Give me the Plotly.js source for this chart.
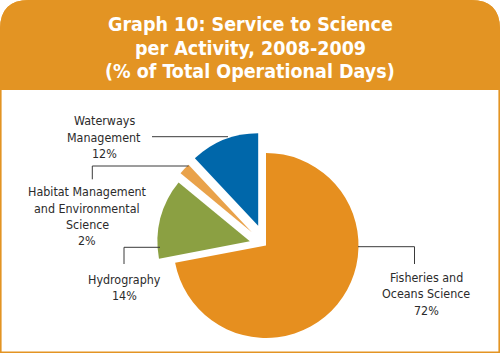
<!DOCTYPE html>
<html>
<head>
<meta charset="utf-8">
<script src="https://cdn.plot.ly/plotly-3.0.1.min.js"></script>
<style>
html,body{margin:0;padding:0;width:500px;height:353px;overflow:hidden;background:#fff;}
#chart{position:absolute;left:0;top:0;width:500px;height:380px;}
</style>
</head>
<body>
<div id="chart"></div>
<script>
// ---- data ----
const categories = ['Fisheries and Oceans Science', 'Hydrography', 'Habitat Management and Environmental Science', 'Waterways Management'];
const shares = [72, 14, 2, 12];
const labelLines = [
  ['Fisheries and', 'Oceans Science'],
  ['Hydrography'],
  ['Habitat Management', 'and Environmental', 'Science'],
  ['Waterways', 'Management']
];
const titleLines = ['Graph 10: Service to Science', 'per Activity, 2008-2009', '(% of Total Operational Days)'];

// ---- styling / layout helpers ----
const W = 500, H = 380;
const px = x => x / W;
const py = y => 1 - y / H;
const sliceColors = ['#E68F1F', '#8BA042', '#E9A24A', '#0067AA'];
const pulls = [0, 0.18, 0.21, 0.23];
const ORANGE = '#E39423';
const FONT = '"DejaVu Sans Condensed", "Liberation Sans Narrow", "Arial Narrow", sans-serif';

const trace = {
  type: 'pie',
  labels: categories,
  values: shares,
  sort: false,
  direction: 'clockwise',
  rotation: 0,
  pull: pulls,
  marker: {colors: sliceColors, line: {width: 0}},
  textinfo: 'none',
  hoverinfo: 'label+percent',
  showlegend: false,
  domain: {x: [px(152.2), px(379.8)], y: [py(359.3), py(131.7)]}
};

// label placement (pixels): text center x, first line y, leader polyline
const labelPos = [
  {x: 426, y: 277.5, line: [[358, 246.7], [414.5, 246.7], [414.5, 264]]},
  {x: 124, y: 279.5, line: [[160, 247.3], [124, 247.3], [124, 264]]},
  {x: 87,  y: 191.7, line: [[188.5, 166], [92.3, 166], [92.3, 179.3]]},
  {x: 104, y: 120.7, line: [[228, 136.7], [152, 136.7]]}
];

const annotations = [];
const shapes = [];

// header + frame
const r = 29;
const hdrPath = `M ${px(0)},${py(90)} L ${px(0)},${py(r)} Q ${px(0)},${py(0)} ${px(r)},${py(0)} L ${px(W - r)},${py(0)} Q ${px(W)},${py(0)} ${px(W)},${py(r)} L ${px(W)},${py(90)} Z`;
const framePath = `M ${px(0.8)},${py(352.2)} L ${px(0.8)},${py(r)} Q ${px(0.8)},${py(0.8)} ${px(r)},${py(0.8)} L ${px(W - r)},${py(0.8)} Q ${px(W - 0.8)},${py(0.8)} ${px(W - 0.8)},${py(r)} L ${px(W - 0.8)},${py(352.2)} Z`;
shapes.push({type: 'path', xref: 'paper', yref: 'paper', path: framePath, line: {color: ORANGE, width: 1.6}, fillcolor: 'rgba(0,0,0,0)', layer: 'below'});
shapes.push({type: 'path', xref: 'paper', yref: 'paper', path: hdrPath, line: {width: 0}, fillcolor: ORANGE, layer: 'below'});

const titleY = [25, 48.3, 71.7];
titleLines.forEach((t, i) => {
  annotations.push({xref: 'paper', yref: 'paper', x: 0.5, y: py(titleY[i]), text: '<b>' + t + '</b>',
    showarrow: false, xanchor: 'center', yanchor: 'middle',
    font: {family: FONT, size: 19.5, color: '#ffffff'}});
});

categories.forEach((c, i) => {
  const lines = labelLines[i].concat([shares[i] + '%']);
  const p = labelPos[i];
  lines.forEach((t, k) => {
    annotations.push({xref: 'paper', yref: 'paper', x: px(p.x), y: py(p.y + k * 16.3), text: t,
      showarrow: false, xanchor: 'center', yanchor: 'middle',
      font: {family: FONT, size: 12.4, color: '#2b2b2b'}});
  });
  for (let k = 0; k < p.line.length - 1; k++) {
    shapes.push({type: 'line', xref: 'paper', yref: 'paper',
      x0: px(p.line[k][0]), y0: py(p.line[k][1]), x1: px(p.line[k + 1][0]), y1: py(p.line[k + 1][1]),
      line: {color: '#3a3a3a', width: 1}});
  }
});

const layout = {
  width: W, height: H,
  margin: {l: 0, r: 0, t: 0, b: 0},
  paper_bgcolor: '#ffffff',
  showlegend: false,
  shapes: shapes,
  annotations: annotations
};

Plotly.newPlot('chart', [trace], layout, {displayModeBar: false, staticPlot: true});
</script>
</body>
</html>
